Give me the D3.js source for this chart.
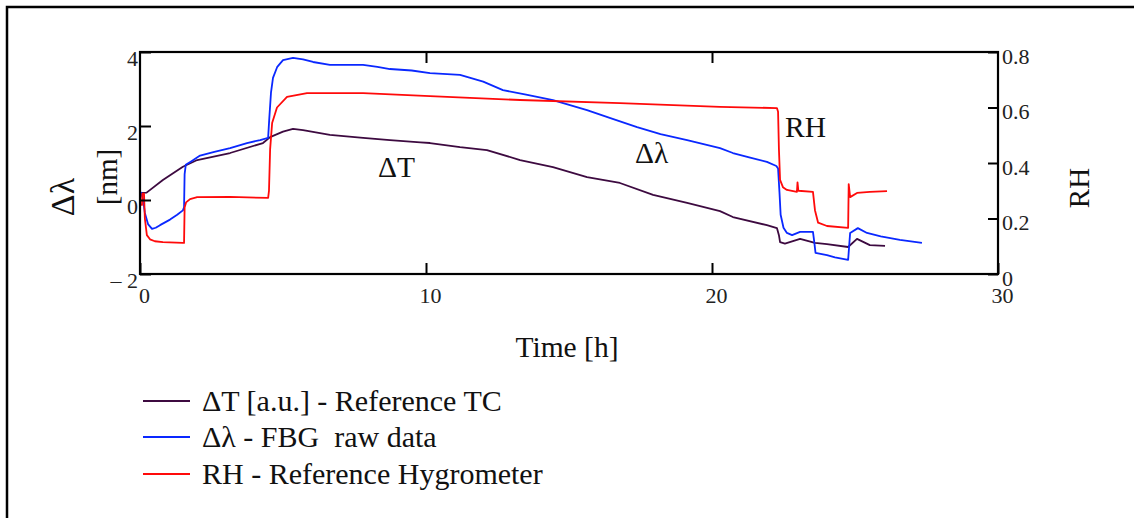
<!DOCTYPE html>
<html lang="en">
<head>
<meta charset="UTF-8">
<title>FBG response vs reference sensors</title>
<style>
    html, body { margin: 0; padding: 0; background: #fff; overflow: hidden; }
    svg { display: block; font-family: "Liberation Serif", "Times New Roman", serif; }
</style>
</head>
<body>
<div id="chart"></div>
<script src="https://cdn.jsdelivr.net/npm/d3@7"></script>
<script>
// ΔT [a.u.] - reference thermocouple (left axis)
const tcTime = [0.00, 0.05, 0.23, 0.80, 1.50, 2.00, 3.15, 4.30, 4.55, 5.00, 5.35, 5.70, 6.64, 7.80, 8.74, 9.80,
    10.14, 11.19, 12.13, 13.29, 14.44, 15.63, 16.78, 17.94, 19.13, 20.28, 20.73, 21.92, 22.27, 22.34, 22.38,
    22.55, 23.08, 23.60, 24.02, 24.76, 25.07, 25.52, 26.05];
const tcDelta = [0.15, 0.19, 0.20, 0.54, 0.90, 1.08, 1.27, 1.54, 1.70, 1.85, 1.92, 1.89, 1.76, 1.68, 1.62, 1.56,
    1.54, 1.43, 1.35, 1.08, 0.89, 0.62, 0.46, 0.14, -0.08, -0.30, -0.46, -0.68, -0.76, -0.95, -1.14,
    -1.18, -1.05, -1.16, -1.19, -1.27, -1.05, -1.22, -1.24];

// Δλ [nm] - FBG raw data (left axis)
const fbgTime = [0.00, 0.04, 0.10, 0.17, 0.28, 0.42, 0.55, 0.70, 1.05, 1.30, 1.50, 1.54, 1.56, 1.60, 1.80, 2.10,
    2.60, 3.15, 3.74, 4.20, 4.48, 4.52, 4.58, 4.65, 4.80, 5.00, 5.35, 5.70, 6.05, 6.64, 7.80, 8.30, 8.74, 9.50,
    10.14, 11.19, 12.00, 12.69, 13.50, 14.44, 15.63, 16.50, 17.38, 18.20, 19.13, 20.28, 20.73, 21.30, 21.92,
    22.25, 22.31, 22.36, 22.40, 22.50, 22.62, 22.80, 23.08, 23.53, 23.57, 23.62, 24.02, 24.30, 24.76, 24.80,
    24.83, 25.10, 25.42, 25.90, 26.57, 27.34];
const fbgShift = [0.05, 0.20, 0.05, -0.35, -0.65, -0.78, -0.75, -0.68, -0.53, -0.40, -0.28, -0.20, 0.70, 0.95, 1.05, 1.20,
    1.30, 1.40, 1.54, 1.62, 1.68, 2.20, 2.90, 3.30, 3.60, 3.78, 3.84, 3.80, 3.73, 3.65, 3.65, 3.60, 3.54, 3.50,
    3.43, 3.38, 3.20, 2.97, 2.85, 2.70, 2.43, 2.20, 1.97, 1.78, 1.62, 1.40, 1.27, 1.15, 1.03,
    0.92, 0.85, 0.20, -0.40, -0.75, -0.89, -0.95, -0.86, -0.86, -1.10, -1.43, -1.49, -1.55, -1.62, -1.20,
    -0.89, -0.76, -0.89, -0.98, -1.08, -1.16];

// RH - reference hygrometer (right axis)
const rhTime = [0.00, 0.07, 0.08, 0.14, 0.17, 0.24, 0.35, 0.52, 0.80, 1.50, 1.54, 1.56, 1.61, 1.75, 2.00, 3.15,
    4.48, 4.51, 4.55, 4.62, 4.79, 5.14, 5.84, 7.80, 10.14, 13.29, 16.78, 20.28, 22.27, 22.31, 22.34, 22.38,
    22.48, 22.62, 22.97, 22.99, 23.02, 23.53, 23.60, 23.71, 24.02, 24.76, 24.78, 24.83, 25.07, 25.52, 26.12];
const rhValue = [0.249, 0.249, 0.29, 0.29, 0.20, 0.14, 0.125, 0.118, 0.115, 0.112, 0.112, 0.24, 0.258, 0.27, 0.277, 0.278,
    0.274, 0.30, 0.45, 0.544, 0.60, 0.638, 0.652, 0.652, 0.641, 0.627, 0.616, 0.602, 0.598, 0.585, 0.45, 0.339,
    0.313, 0.303, 0.296, 0.33, 0.30, 0.296, 0.23, 0.185, 0.173, 0.166, 0.324, 0.277, 0.292, 0.296, 0.299];

const xTicks = [0, 10, 20, 30];
const yLeftTicks = [-2, 0, 2, 4];
const yRightTicks = [0, 0.2, 0.4, 0.6, 0.8];

const legendLabels = ["\u0394T [a.u.] - Reference TC", "\u0394\u03bb - FBG  raw data", "RH - Reference Hygrometer"];
const colors = ["#3d0a40", "#0a28ff", "#ff0a0a"];

const W = 1134, H = 518;
const plot = { left: 140, right: 998, top: 52, bottom: 274 };

const svg = d3.select("#chart").append("svg")
    .attr("width", W)
    .attr("height", H);

// outer frame (only top and left edges are inside the picture)
svg.append("path")
    .attr("d", `M7,${H} V7 H${W}`)
    .attr("fill", "none")
    .attr("stroke", "#000")
    .attr("stroke-width", 2.5);

const x = d3.scaleLinear().domain([0, 30]).range([plot.left, plot.right]);
const yL = d3.scaleLinear().domain([-2, 4]).range([plot.bottom, plot.top]);
const yR = d3.scaleLinear().domain([0, 0.8]).range([plot.bottom, plot.top]);

const fmt = v => v < 0 ? "\u2013 " + Math.abs(v) : String(v);

function styleAxis(g) {
    g.select(".domain").remove();
    g.selectAll(".tick line").attr("stroke", "#000").attr("stroke-width", 2);
    g.selectAll(".tick text")
        .attr("fill", "#222")
        .attr("font-size", 22)
        .attr("font-family", "Liberation Serif, Times New Roman, serif");
}

// series
const series = [
    { t: tcTime, v: tcDelta, y: yL },
    { t: fbgTime, v: fbgShift, y: yL },
    { t: rhTime, v: rhValue, y: yR }
];

svg.append("clipPath").attr("id", "plotclip")
    .append("rect")
    .attr("x", plot.left).attr("y", plot.top)
    .attr("width", plot.right - plot.left).attr("height", plot.bottom - plot.top);

series.forEach((s, i) => {
    const pts = s.t.map((t, j) => [t, s.v[j]]);
    const line = d3.line().x(d => x(d[0])).y(d => s.y(d[1]));
    svg.append("path")
        .datum(pts)
        .attr("clip-path", "url(#plotclip)")
        .attr("fill", "none")
        .attr("stroke", colors[i])
        .attr("stroke-width", 1.8)
        .attr("stroke-linejoin", "round")
        .attr("d", line);
});

// plot box
svg.append("rect")
    .attr("x", plot.left).attr("y", plot.top)
    .attr("width", plot.right - plot.left).attr("height", plot.bottom - plot.top)
    .attr("fill", "none")
    .attr("stroke", "#000")
    .attr("stroke-width", 2.2);

// axes
svg.append("g")
    .attr("transform", `translate(0,${plot.bottom})`)
    .call(d3.axisBottom(x).tickValues(xTicks).tickSize(-11).tickPadding(13).tickFormat(fmt))
    .call(styleAxis)
    .call(g => g.selectAll(".tick text").attr("dx", 4));

svg.append("g")
    .attr("transform", `translate(0,${plot.top})`)
    .call(d3.axisTop(x).tickValues([10, 20]).tickSize(-11).tickFormat(""))
    .call(styleAxis);

svg.append("g")
    .attr("transform", `translate(${plot.left},0)`)
    .call(d3.axisLeft(yL).tickValues(yLeftTicks).tickSize(-11).tickPadding(2).tickFormat(fmt))
    .call(styleAxis)
    .call(g => g.selectAll(".tick text").attr("dy", 13));

svg.append("g")
    .attr("transform", `translate(${plot.right},0)`)
    .call(d3.axisRight(yR).tickValues(yRightTicks).tickSize(-10).tickPadding(4).tickFormat(d => d === 0 ? "0" : d3.format(".1f")(d)))
    .call(styleAxis)
    .call(g => g.selectAll(".tick text").attr("dy", 11));

// axis titles
const big = 29.5;
svg.append("text")
    .attr("transform", "translate(74,197) rotate(-90)")
    .attr("text-anchor", "middle")
    .attr("font-size", 34)
    .attr("fill", "#111")
    .text("\u0394\u03bb");

svg.append("text")
    .attr("transform", "translate(117,177) rotate(-90)")
    .attr("text-anchor", "middle")
    .attr("font-size", 29)
    .attr("fill", "#111")
    .text("[nm]");

svg.append("text")
    .attr("transform", "translate(1089,188) rotate(-90)")
    .attr("text-anchor", "middle")
    .attr("font-size", 29)
    .attr("fill", "#111")
    .text("RH");

svg.append("text")
    .attr("x", 567).attr("y", 357)
    .attr("text-anchor", "middle")
    .attr("font-size", big)
    .attr("fill", "#111")
    .text("Time [h]");

// in-plot annotations
svg.append("text").attr("x", 378).attr("y", 177)
    .attr("font-size", big).attr("fill", "#111").text("\u0394T");
svg.append("text").attr("x", 635).attr("y", 163)
    .attr("font-size", big).attr("fill", "#111").text("\u0394\u03bb");
svg.append("text").attr("x", 785).attr("y", 137)
    .attr("font-size", big).attr("fill", "#111").text("RH");

// legend
const legend = svg.append("g");
const rowY = [401, 437, 474];
legendLabels.forEach((lab, i) => {
    legend.append("line")
        .attr("x1", 143).attr("x2", 190)
        .attr("y1", rowY[i]).attr("y2", rowY[i])
        .attr("stroke", colors[i])
        .attr("stroke-width", 2);
    legend.append("text")
        .attr("x", 202).attr("y", rowY[i] + 9.5)
        .attr("font-size", 30)
        .attr("fill", "#111")
        .attr("xml:space", "preserve")
        .style("white-space", "pre")
        .text(lab);
});
</script>
</body>
</html>
